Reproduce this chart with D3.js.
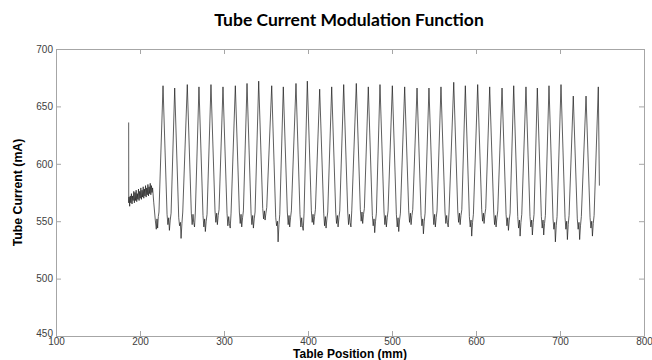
<!DOCTYPE html>
<html>
<head>
<meta charset="utf-8">
<script src="https://cdn.jsdelivr.net/npm/d3@7"></script>
<style>
  body { margin: 0; background: #fff; }
  .tick text { font-family: "Liberation Sans", Arial, sans-serif; font-size: 10px; fill: #404040; }
  .axis path, .axis line { stroke: #a6a6a6; }
</style>
</head>
<body>
<script>
// axis ticks
var xTicks = [100, 200, 300, 400, 500, 600, 700, 800];
var yTicks = [450, 500, 550, 600, 650, 700];

// start of scan: spike, flat plateau and the drop before the first peak
var rampPos = [186.5, 186.6,
  187.0, 187.7, 188.4, 189.1, 189.8, 190.5, 191.2, 191.9, 192.6, 193.3,
  194.0, 194.7, 195.4, 196.1, 196.8, 197.5, 198.2, 198.9, 199.6, 200.3,
  201.0, 201.7, 202.4, 203.1, 203.8, 204.5, 205.2, 205.9, 206.6, 207.3,
  208.0, 208.7, 209.4, 210.1, 210.8, 211.5, 212.2, 212.9, 213.6, 214.3,
  215.0, 216.4, 218.2, 219.4, 220.2, 221.0, 221.8, 222.6];
var rampCurrent = [636, 566,
  571, 563, 572, 566, 574, 565, 572, 568, 576, 566,
  575, 568, 577, 567, 574, 569, 578, 568, 576, 570,
  579, 569, 577, 571, 580, 570, 578, 572, 581, 571,
  579, 573, 582, 572, 580, 574, 583, 573, 581, 575,
  579, 566, 551, 543, 552, 544, 554, 558];

// modulation peaks
var peakPos = [227.4, 241.3, 256.3, 270.2, 284.5, 298.8, 313.5, 327.4, 341.3, 356.8,
  370.6, 385.7, 399.2, 413.9, 428.2, 442.5, 457.5, 471.8, 485.7, 500.4,
  515.1, 529.8, 544.0, 558.3, 573.5, 587.3, 602.0, 616.3, 631.0, 644.9,
  659.5, 673.0, 686.9, 701.2, 715.8, 731.0, 745.6];
var peakCurrent = [668, 666, 669, 667, 669, 667, 668, 670, 672, 668,
  667, 670, 672, 665, 667, 669, 670, 667, 669, 668,
  667, 666, 666, 667, 671, 668, 669, 667, 666, 668,
  667, 666, 668, 669, 659, 659, 667];

// noisy valley after each peak (6 samples per valley)
var valleyPos = [
  232.2, 233.2, 234.2, 235.0, 236.0, 237.0,
  246.1, 247.1, 248.1, 248.9, 249.9, 250.9,
  261.1, 262.1, 263.1, 263.9, 264.9, 265.9,
  275.0, 276.0, 277.0, 277.8, 278.8, 279.8,
  289.3, 290.3, 291.3, 292.1, 293.1, 294.1,
  303.6, 304.6, 305.6, 306.4, 307.4, 308.4,
  318.3, 319.3, 320.3, 321.1, 322.1, 323.1,
  332.2, 333.2, 334.2, 335.0, 336.0, 337.0,
  346.1, 347.1, 348.1, 348.9, 349.9, 350.9,
  361.6, 362.6, 363.6, 364.4, 365.4, 366.4,
  375.4, 376.4, 377.4, 378.2, 379.2, 380.2,
  390.5, 391.5, 392.5, 393.3, 394.3, 395.3,
  404.0, 405.0, 406.0, 406.8, 407.8, 408.8,
  418.7, 419.7, 420.7, 421.5, 422.5, 423.5,
  433.0, 434.0, 435.0, 435.8, 436.8, 437.8,
  447.3, 448.3, 449.3, 450.1, 451.1, 452.1,
  462.3, 463.3, 464.3, 465.1, 466.1, 467.1,
  476.6, 477.6, 478.6, 479.4, 480.4, 481.4,
  490.5, 491.5, 492.5, 493.3, 494.3, 495.3,
  505.2, 506.2, 507.2, 508.0, 509.0, 510.0,
  519.9, 520.9, 521.9, 522.7, 523.7, 524.7,
  534.6, 535.6, 536.6, 537.4, 538.4, 539.4,
  548.8, 549.8, 550.8, 551.6, 552.6, 553.6,
  563.1, 564.1, 565.1, 565.9, 566.9, 567.9,
  578.3, 579.3, 580.3, 581.1, 582.1, 583.1,
  592.1, 593.1, 594.1, 594.9, 595.9, 596.9,
  606.8, 607.8, 608.8, 609.6, 610.6, 611.6,
  621.1, 622.1, 623.1, 623.9, 624.9, 625.9,
  635.8, 636.8, 637.8, 638.6, 639.6, 640.6,
  649.7, 650.7, 651.7, 652.5, 653.5, 654.5,
  664.3, 665.3, 666.3, 667.1, 668.1, 669.1,
  677.8, 678.8, 679.8, 680.6, 681.6, 682.6,
  691.7, 692.7, 693.7, 694.5, 695.5, 696.5,
  706.0, 707.0, 708.0, 708.8, 709.8, 710.8,
  720.6, 721.6, 722.6, 723.4, 724.4, 725.4,
  735.8, 736.8, 737.8, 738.6, 739.6, 740.6];
var valleyCurrent = [
  556, 547, 553, 542, 551, 557,
  553, 546, 549, 535, 548, 558,
  557, 547, 556, 549, 545, 558,
  555, 545, 552, 541, 550, 556,
  559, 549, 557, 547, 555, 560,
  557, 546, 554, 548, 544, 557,
  558, 548, 556, 545, 553, 559,
  557, 547, 555, 544, 552, 558,
  561, 552, 559, 551, 557, 562,
  553, 546, 550, 532, 547, 556,
  558, 547, 555, 545, 553, 559,
  556, 545, 553, 546, 542, 557,
  559, 549, 556, 547, 554, 560,
  557, 546, 554, 544, 552, 558,
  558, 548, 555, 545, 553, 559,
  558, 547, 556, 549, 545, 559,
  560, 550, 558, 548, 556, 561,
  555, 546, 552, 540, 550, 557,
  558, 547, 555, 545, 553, 559,
  556, 545, 553, 541, 551, 557,
  559, 549, 557, 547, 555, 560,
  555, 546, 552, 539, 550, 557,
  558, 547, 556, 545, 553, 559,
  558, 548, 555, 549, 545, 558,
  559, 549, 557, 547, 555, 560,
  554, 545, 551, 537, 549, 556,
  560, 550, 557, 548, 556, 561,
  558, 547, 555, 545, 553, 559,
  556, 546, 553, 542, 551, 557,
  554, 544, 551, 537, 549, 556,
  554, 545, 551, 538, 549, 556,
  554, 544, 551, 538, 548, 555,
  552, 543, 549, 532, 546, 554,
  553, 543, 550, 534, 547, 555,
  552, 543, 549, 534, 546, 554,
  553, 544, 550, 537, 548, 555];

// last sample after final peak
var tailPos = [746.9];
var tailCurrent = [581];

var margin = {top: 49, right: 8, bottom: 24, left: 56};
var width = 652 - margin.left - margin.right;
var height = 360 - margin.top - margin.bottom;

var svg = d3.select("body").append("svg")
  .attr("width", 652)
  .attr("height", 360);

svg.append("text")
  .attr("x", 349)
  .attr("y", 26)
  .attr("text-anchor", "middle")
  .style("font-family", "Lato, 'Open Sans', sans-serif")
  .style("font-weight", "bold")
  .style("font-size", "17.5px")
  .style("fill", "#000")
  .text("Tube Current Modulation Function");

var g = svg.append("g")
  .attr("transform", "translate(" + margin.left + "," + margin.top + ")");

var x = d3.scaleLinear().domain([100, 800]).range([0, width]);
var y = d3.scaleLinear().domain([450, 700]).range([height, 0]);

// box with inward ticks on all four sides
g.append("g").attr("class", "axis")
  .attr("transform", "translate(0," + height + ")")
  .call(d3.axisBottom(x).tickValues(xTicks).tickSizeInner(-5).tickSizeOuter(0).tickPadding(2));
g.append("g").attr("class", "axis")
  .call(d3.axisTop(x).tickValues(xTicks).tickSizeInner(-5).tickSizeOuter(0).tickFormat(""));
var yAxis = g.append("g").attr("class", "axis")
  .call(d3.axisLeft(y).tickValues(yTicks).tickSizeInner(-5).tickSizeOuter(0).tickPadding(3));
g.append("g").attr("class", "axis")
  .attr("transform", "translate(" + width + ",0)")
  .call(d3.axisRight(y).tickValues(yTicks).tickSizeInner(-5).tickSizeOuter(0).tickFormat(""));

// "450" sits a little above its tick, clear of the "100" below it
yAxis.selectAll(".tick text").filter(function(d) { return d === 450; })
  .attr("y", -2.5);

// build the trace
var points = rampPos.map(function(p, i) { return [p, rampCurrent[i]]; });
peakPos.forEach(function(p, k) {
  points.push([p, peakCurrent[k]]);
  if (k < peakPos.length - 1) {
    for (var j = 0; j < 6; j++) {
      points.push([valleyPos[k * 6 + j], valleyCurrent[k * 6 + j]]);
    }
  }
});
tailPos.forEach(function(p, i) { points.push([p, tailCurrent[i]]); });

var line = d3.line()
  .x(function(d) { return x(d[0]); })
  .y(function(d) { return y(d[1]); });

g.append("path")
  .datum(points)
  .attr("d", line)
  .attr("fill", "none")
  .attr("stroke", "#1a1a1a")
  .attr("stroke-width", 0.7);

// axis titles
svg.append("text")
  .attr("x", margin.left + width / 2)
  .attr("y", 358)
  .attr("text-anchor", "middle")
  .style("font-family", "'Liberation Sans', Arial, sans-serif")
  .style("font-weight", "bold")
  .style("font-size", "12px")
  .text("Table Position (mm)");

svg.append("text")
  .attr("transform", "translate(22," + (margin.top + height / 2) + ") rotate(-90)")
  .attr("text-anchor", "middle")
  .style("font-family", "'Liberation Sans', Arial, sans-serif")
  .style("font-weight", "bold")
  .style("font-size", "12.3px")
  .text("Tube Current (mA)");
</script>
</body>
</html>
